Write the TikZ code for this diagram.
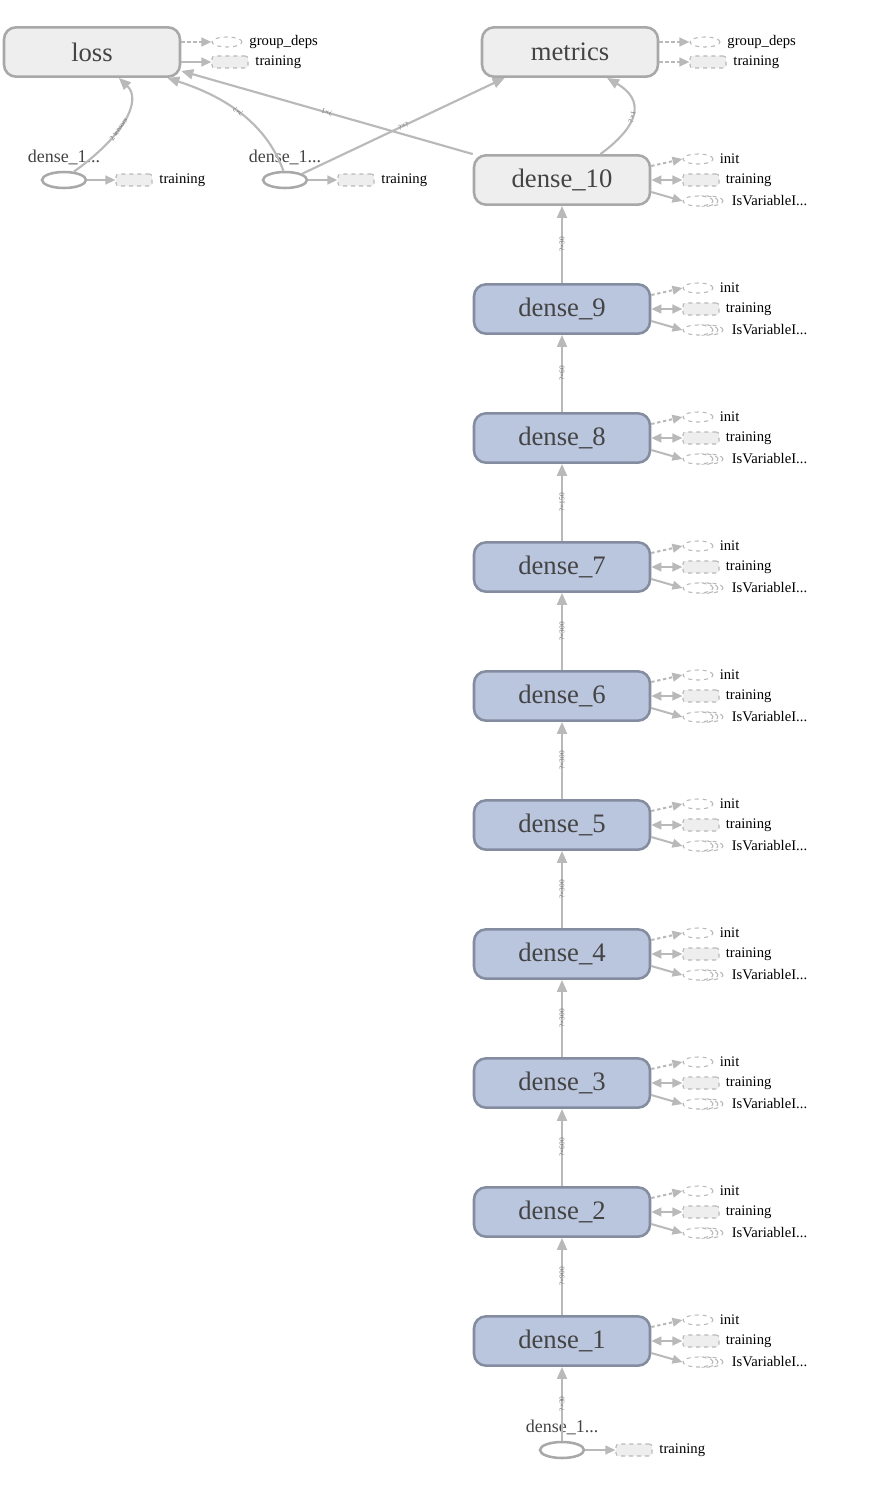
\documentclass[tikz,border=0pt]{standalone}
\usepackage{fontspec}
\setmainfont{Liberation Serif}
\usetikzlibrary{positioning,arrows.meta,shapes.geometric}
\definecolor{edgegray}{RGB}{185,185,185}
\definecolor{nodegray}{RGB}{168,168,168}
\definecolor{fillgray}{RGB}{238,238,238}
\definecolor{densefill}{RGB}{186,197,222}
\definecolor{denseline}{RGB}{132,140,160}
\definecolor{auxline}{RGB}{185,185,185}
\definecolor{textgray}{RGB}{68,68,68}

\tikzset{
  opnode/.style={draw=nodegray, fill=fillgray, line width=1.9pt, rounded corners=9pt,
    minimum width=132pt, minimum height=37pt, text=textgray, font=\fontsize{20}{22}\selectfont},
  densenode/.style={opnode, draw=denseline, fill=densefill},
  inputnode/.style={ellipse, draw=nodegray, line width=1.9pt, minimum width=33pt,
    minimum height=12pt, inner sep=0pt},
  inlabel/.style={text=textgray, inner sep=0pt, font=\fontsize{13.5}{14}\selectfont},
  auxell/.style={ellipse, draw=auxline, dashed, fill=white, line width=0.8pt,
    minimum width=22.5pt, minimum height=7.5pt, inner sep=0pt},
  auxbox/.style={rectangle, rounded corners=2pt, draw=auxline, dashed, fill=fillgray,
    line width=0.8pt, minimum width=27pt, minimum height=9pt, inner sep=0pt},
  auxtext/.style={inner sep=0pt, font=\fontsize{11}{12}\selectfont},
  flow/.style={draw=edgegray, line width=1.6pt, -{Triangle[length=9pt,width=7.5pt]}},
  auxflow/.style={draw=edgegray, line width=1.5pt, -{Triangle[length=7.5pt,width=6.5pt]}},
  ctrlflow/.style={auxflow, dash pattern=on 2.5pt off 2pt},
  elabel/.style={font=\fontsize{5.5}{6}\selectfont, text=black!55, sloped, allow upside down, inner sep=0pt}
}

\begin{document}
\begin{tikzpicture}[x=0.75pt, y=-0.75pt]
    \useasboundingbox (0,0) rectangle (891,1488);
    % Summary ops
    \node[opnode] (loss) at (92,52) {loss};
    \node[opnode] (metrics) at (570,52) {metrics};
    \node[auxell] (lgd) at (227,42) {};
    \node[auxbox] (ltr) at (230,62) {};
    \node[auxtext, right=5pt of lgd] {group\_deps};
    \node[auxtext, right=5pt of ltr] {training};
    \draw[ctrlflow] ([yshift=7.5pt]loss.east) -- (lgd);
    \draw[auxflow] ([yshift=-7.5pt]loss.east) -- (ltr);
    \node[auxell] (mgd) at (705,42) {};
    \node[auxbox] (mtr) at (708,62) {};
    \node[auxtext, right=5pt of mgd] {group\_deps};
    \node[auxtext, right=5pt of mtr] {training};
    \draw[ctrlflow] ([yshift=7.5pt]metrics.east) -- (mgd);
    \draw[ctrlflow] ([yshift=-7.5pt]metrics.east) -- (mtr);

    % Inputs
    \node[inputnode] (in1) at (64,180) {};
    \node[inputnode] (in2) at (285,180) {};
    \node[inputnode] (in3) at (562,1450) {};
    \node[inlabel] (lab1) at (64,157) {dense\_1...};
    \node[inlabel] (lab2) at (285,157) {dense\_1...};
    \node[inlabel] (lab3) at (562,1427) {dense\_1...};
    \foreach \i/\x/\y in {1/134/180, 2/356/180, 3/634/1450} {
        \node[auxbox] (itr\i) at (\x,\y) {};
        \node[auxtext, right=5pt of itr\i] {training};
        \draw[auxflow] (in\i) -- (itr\i);
    }

    % Dense stack
    \node[opnode] (d10) at (562,180) {dense\_10};
    \foreach \k in {1,...,9} {
        \pgfmathsetmacro\cy{180+129*(10-\k)}
        \node[densenode] (d\k) at (562,\cy) {dense\_\k};
    }
    \foreach \k in {1,...,10} {
        \pgfmathsetmacro\cy{180+129*(10-\k)}
        \node[auxell] (ini\k) at (698,\cy-21) {};
        \node[auxbox] (trn\k) at (701,\cy) {};
        \draw[auxline, dashed, line width=0.8pt, fill=white] (708,\cy+21) ellipse (11.25pt and 3.75pt);
        \draw[auxline, dashed, line width=0.8pt, fill=white] (703,\cy+21) ellipse (11.25pt and 3.75pt);
        \node[auxell] (isv\k) at (698,\cy+21) {};
        \node[auxtext, right=4.5pt of ini\k] {init};
        \node[auxtext, right=4.5pt of trn\k] {training};
        \node[auxtext, right=13.5pt of isv\k] {IsVariableI...};
        \draw[ctrlflow] ([yshift=10.5pt]d\k.east) -- (ini\k.west);
        \draw[auxflow, {Triangle[length=7.5pt,width=6.5pt]}-{Triangle[length=7.5pt,width=6.5pt]}] (d\k.east) -- (trn\k.west);
        \draw[auxflow] ([yshift=-9pt]d\k.east) -- (isv\k.west);
    }
    \draw[flow] (in3) -- node[elabel] {?×30} (d1);
    \foreach \a/\b/\t in {1/2/?×900, 2/3/?×600, 3/4/?×300, 4/5/?×300, 5/6/?×300,
                          6/7/?×300, 7/8/?×150, 8/9/?×60, 9/10/?×30}
        \draw[flow] (d\a) -- node[elabel] {\t} (d\b);

    % Into loss and metrics
    \draw[flow] (in1.40) .. controls (125,135) and (142,100) .. node[elabel, pos=0.4] {2 tensors} (loss.-44);
    \draw[flow] (in2.100) .. controls (265,120) and (220,95) .. node[elabel] {?×?} (loss.-19);
    \draw[flow] (d10.north west) -- node[elabel] {?×1} (loss.-12);
    \draw[flow] (in2.20) -- node[elabel] {?×?} ([xshift=-49pt]metrics.south);
    \draw[flow] (d10.34) .. controls (640,125) and (645,100) .. node[elabel, pos=0.45] {?×1} (metrics.-35);
\end{tikzpicture}
\end{document}
